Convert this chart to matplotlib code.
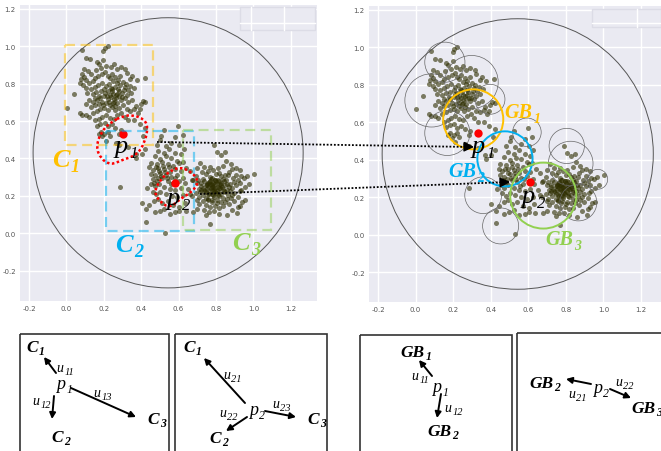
#!/usr/bin/env python3

import matplotlib
matplotlib.use('Agg')
from matplotlib import pyplot
from matplotlib.patches import Circle, Rectangle, PathPatch
from matplotlib.path import Path

#
# Data
#

# sample points, data units
POINTS_C1 = [
	(.083,.98),(.198,.975),(.205,.99),(.222,1.0),(.104,.938),(.128,.932),(.162,.915),(.173,.905),(.197,.928),
	(.092,.878),(.113,.866),(.131,.852),(.158,.871),(.187,.884),(.213,.893),(.238,.886),(.252,.902),(.268,.879),
	(.291,.891),(.314,.877),(.323,.858),(.352,.843),(.341,.826),(.418,.83),(.377,.817),(.082,.851),(.094,.836),
	(.078,.827),(.103,.818),(.072,.801),(.091,.792),(.104,.776),(.122,.803),(.141,.812),(.153,.832),(.171,.843),
	(.193,.851),(.208,.862),(.221,.841),(.233,.828),(.244,.853),(.262,.834),(.274,.817),(.288,.842),(.302,.809),
	(.319,.797),(.338,.786),(.361,.779),(.328,.768),(.312,.783),(.287,.794),(.268,.802),(.251,.813),(.228,.798),
	(.212,.787),(.188,.804),(.169,.793),(.152,.781),(.131,.772),(.112,.752),(.142,.743),(.161,.754),(.183,.762),
	(.203,.771),(.222,.758),(.243,.772),(.258,.783),(.281,.762),(.298,.748),(.322,.741),(.343,.752),(.251,.747),
	(.263,.738),(.272,.744),(.283,.731),(.241,.728),(.254,.719),(.233,.741),(.224,.718),(.202,.733),(.181,.722),
	(.163,.712),(.141,.703),(.122,.714),(.103,.692),(.132,.673),(.151,.684),(.172,.693),(.192,.702),(.213,.697),
	(.232,.688),(.253,.703),(.271,.698),(.292,.711),(.311,.722),(.331,.702),(.352,.713),(.372,.682),(.408,.709),
	(.398,.692),(.421,.701),(.391,.662),(.383,.641),(.042,.742),(.002,.672),(.073,.642),(.084,.633),(.103,.631),
	(.122,.622),(.143,.641),(.164,.652),(.182,.663),(.203,.672),(.223,.661),(.243,.673),(.262,.682),(.281,.668),
	(.302,.683),(.323,.662),(.341,.652),(.362,.663),(.152,.603),(.173,.612),(.191,.623),(.212,.631),(.231,.618),
	(.254,.609),(.272,.632),(.293,.641),(.312,.622),(.331,.603),(.163,.572),(.182,.583),(.204,.592),(.221,.571),
	(.243,.582),(.184,.543),(.202,.531),(.193,.518),(.221,.542),(.232,.521),(.291,.552),(.283,.532),(.262,.561),
	(.172,.533),(.212,.492),(.263,.482),(.284,.473),(.332,.461),(.372,.422),(.374,.401),(.402,.423),(.421,.452),
	(.412,.522),(.423,.562),(.392,.582),(.362,.603),(.245,.761),(.236,.776),(.219,.735),(.266,.722),(.247,.695),
	(.209,.752),(.275,.771),(.296,.727),(.197,.688),(.307,.765),(.229,.703),(.258,.659),(.176,.736),(.154,.724),
]
POINTS_C2 = [
	(.522,.552),(.598,.571),(.508,.522),(.502,.498),(.581,.512),(.622,.523),(.483,.472),(.532,.468),(.561,.482),
	(.603,.471),(.628,.452),(.491,.442),(.522,.431),(.551,.453),(.582,.428),(.612,.421),(.472,.412),(.503,.398),
	(.534,.411),(.562,.402),(.591,.387),(.621,.382),(.451,.378),(.482,.369),(.513,.382),(.541,.371),(.572,.362),
	(.602,.374),(.443,.352),(.462,.339),(.492,.351),(.523,.342),(.553,.328),(.581,.341),(.612,.332),(.641,.351),
	(.452,.318),(.473,.309),(.502,.322),(.531,.312),(.561,.301),(.592,.311),(.623,.298),(.463,.291),(.484,.278),
	(.512,.293),(.541,.282),(.571,.268),(.604,.279),(.632,.271),(.431,.242),(.453,.262),(.472,.251),(.493,.263),
	(.522,.248),(.552,.239),(.583,.232),(.611,.243),(.652,.238),(.462,.221),(.481,.208),(.503,.222),(.532,.209),
	(.563,.198),(.592,.192),(.624,.203),(.661,.212),(.403,.163),(.442,.151),(.471,.172),(.492,.183),(.513,.161),
	(.541,.172),(.572,.153),(.602,.142),(.633,.161),(.428,.128),(.473,.112),(.498,.118),(.523,.131),(.552,.103),
	(.581,.112),(.603,.121),(.427,.062),(.527,.002),(.285,.248),(.672,.283),(.662,.331),(.514,.358),(.493,.331),
	(.477,.352),(.528,.327),(.507,.304),(.546,.352),(.468,.271),(.558,.261),(.536,.294),(.489,.298),(.579,.297),
]
POINTS_C3 = [
	(.791,.472),(.807,.436),(.826,.418),(.847,.432),(.853,.387),(.878,.368),(.906,.351),(.927,.339),(.884,.346),
	(.838,.359),(.809,.347),(.767,.356),(.737,.353),(.716,.377),(.698,.347),(.727,.326),(.756,.334),(.786,.339),
	(.817,.324),(.846,.313),(.869,.329),(.908,.312),(.936,.304),(.694,.308),(.729,.292),(.746,.316),(.769,.301),
	(.778,.293),(.799,.317),(.827,.308),(.838,.291),(.866,.309),(.889,.293),(.917,.284),(.948,.297),(.967,.307),
	(.677,.287),(.706,.283),(.737,.279),(.757,.271),(.766,.282),(.797,.284),(.818,.278),(.827,.269),(.856,.286),
	(.876,.264),(.898,.273),(.927,.267),(1.004,.318),(.978,.262),(.956,.246),(.698,.267),(.719,.253),(.748,.259),
	(.767,.262),(.779,.258),(.806,.261),(.828,.257),(.846,.259),(.867,.247),(.887,.242),(.909,.258),(.936,.233),
	(.708,.237),(.738,.233),(.756,.248),(.776,.246),(.789,.236),(.816,.243),(.837,.238),(.857,.231),(.876,.226),
	(.897,.216),(.926,.224),(.693,.217),(.717,.223),(.749,.218),(.758,.212),(.787,.223),(.798,.216),(.826,.211),
	(.848,.218),(.866,.206),(.888,.203),(.917,.193),(.673,.198),(.707,.192),(.728,.207),(.748,.191),(.777,.208),
	(.787,.193),(.818,.199),(.836,.191),(.857,.183),(.878,.187),(.938,.167),(.699,.177),(.728,.173),(.757,.178),
	(.776,.167),(.807,.176),(.828,.166),(.847,.169),(.868,.157),(.896,.174),(.927,.146),(.957,.176),(.708,.156),
	(.746,.153),(.767,.143),(.796,.147),(.817,.136),(.837,.144),(.887,.126),(.917,.138),(.698,.128),(.737,.123),
	(.763,.114),(.788,.117),(.816,.104),(.858,.096),(.914,.107),(.746,.097),(.768,.052),(.677,.113),(.637,.117),
	(.762,.276),(.776,.263),(.784,.269),(.794,.261),(.801,.277),(.819,.263),(.771,.243),(.783,.248),(.795,.242),
	(.811,.247),(.822,.244),(.753,.237),(.778,.233),(.804,.228),(.793,.224),(.814,.221),(.769,.227),(.751,.257),
	(.733,.242),(.831,.247),(.794,.287),(.773,.291),(.809,.286),(.785,.207),(.812,.204),(.764,.208),(.742,.227),
	(.841,.228),(.752,.263),(.722,.267),(.858,.263),(.779,.179),(.758,.182),(.803,.163),(.843,.281),(.719,.231),
]

# big enclosing circle and the small grey balls of the right panel: x, y, r
BIG_CIRCLE = (.544, .43, .722)
BALLS_X = [.156, .298, .085, .396, .169, .593, .805, .826, .970, .867, .360, .453]
BALLS_Y = [.920, .814, .716, .722, .542, .546, .473, .379, .295, .171, .210, .046]
BALLS_R = [.107, .142, .142, .080, .120, .076, .094, .119, .053, .098, .098, .096]

# coloured balls GB1, GB2, GB3
GB_X = [.307, .476, .680]
GB_Y = [.615, .404, .208]
GB_R = [.160, .147, .176]

# red query points in each panel
LEFT_RED_X = [.305, .581]
LEFT_RED_Y = [.533, .267]
RIGHT_RED_X = [.334, .609]
RIGHT_RED_Y = [.540, .283]

TICKS = [-0.2, 0.0, 0.2, 0.4, 0.6, 0.8, 1.0, 1.2]

ORANGE = "#FFC000"
BLUE = "#00B0F0"
GREEN = "#92D050"
POINT_COLOR = "#2E2E00"
BG_COLOR = "#EAEAF2"

W, H = 661, 452

fig = pyplot.figure(figsize=(W / 100, H / 100), dpi=100)
fig.patch.set_facecolor("white")


def data_axes(left, right, top, bottom, xlim, ylim):
	ax = fig.add_axes([left / W, 1 - bottom / H, (right - left) / W, (bottom - top) / H])
	ax.set_facecolor(BG_COLOR)
	ax.set_xlim(xlim)
	ax.set_ylim(ylim)
	ax.set_xticks(TICKS)
	ax.set_yticks(TICKS)
	ax.set_xticklabels(["%.1f" % t for t in TICKS])
	ax.set_yticklabels(["%.1f" % t for t in TICKS])
	ax.grid(True, color="white", linewidth=1)
	ax.set_axisbelow(True)
	ax.tick_params(length=0, labelsize=5, labelcolor="#555555", pad=3)
	for s in ax.spines.values():
		s.set_visible(False)
	points = POINTS_C1 + POINTS_C2 + POINTS_C3
	ax.scatter([p[0] for p in points], [p[1] for p in points], s=13, color=POINT_COLOR,
		alpha=0.6, linewidths=0, zorder=3)
	ax.add_patch(Circle(BIG_CIRCLE[:2], BIG_CIRCLE[2], fill=False, edgecolor="#555555", linewidth=0.7, zorder=4))
	return ax


left_ax = data_axes(20, 317, 6, 302, (-0.248, 1.34), (-0.362, 1.22))
right_ax = data_axes(369, 661, 7, 303, (-0.248, 1.307), (-0.36, 1.22))

left_ax.scatter(LEFT_RED_X, LEFT_RED_Y, s=36, color="#FF0000", linewidths=0, zorder=6)

for x, y, r in zip(BALLS_X, BALLS_Y, BALLS_R):
	right_ax.add_patch(Circle((x, y), r, fill=False, edgecolor="#666666", linewidth=0.5, zorder=4))
for x, y, r, c in zip(GB_X, GB_Y, GB_R, [ORANGE, BLUE, GREEN]):
	right_ax.add_patch(Circle((x, y), r, fill=False, edgecolor=c, linewidth=1.4, zorder=5))
right_ax.scatter(RIGHT_RED_X, RIGHT_RED_Y, s=36, color="#FF0000", linewidths=0, zorder=6)

# Everything drawn by hand on the figure goes on an overlay in pixels
over = fig.add_axes([0, 0, 1, 1])
over.set_xlim(0, W)
over.set_ylim(H, 0)
over.axis("off")
over.patch.set_visible(False)

# leftovers of the legend box, top right of each plot
for x0, y0, w, h in [(240, 8, 75, 23), (592, 10, 69, 18)]:
	over.add_patch(Rectangle((x0, y0), w, h, facecolor=BG_COLOR, edgecolor="#DCDCE6", linewidth=1))
over.plot([240, 315], [23.5, 23.5], color="white", linewidth=1)
over.plot([251, 251], [8, 31], color="white", linewidth=1)
over.plot([284, 284], [8, 31], color="white", linewidth=1)
over.plot([592, 661], [23.5, 23.5], color="white", linewidth=1)
over.plot([637, 637], [10, 28], color="white", linewidth=1)

# dashed cluster boxes
for x0, y0, x1, y1, c in [(65, 46, 153, 146, ORANGE), (106, 132, 194, 232, BLUE), (183, 131, 271, 231, GREEN)]:
	over.add_patch(Rectangle((x0, y0), x1 - x0, y1 - y0, fill=False, edgecolor=c, alpha=0.5,
		linewidth=1.6, linestyle=(0, (4.5, 2.5))))


def blob(pts):
	# closed smooth outline, corners as quadratic controls
	mids = [((pts[i][0] + pts[i - 1][0]) / 2, (pts[i][1] + pts[i - 1][1]) / 2) for i in range(len(pts))]
	verts = [mids[0]]
	codes = [Path.MOVETO]
	for i in range(len(pts)):
		verts += [pts[i], mids[(i + 1) % len(pts)]]
		codes += [Path.CURVE3, Path.CURVE3]
	over.add_patch(PathPatch(Path(verts, codes), fill=False, edgecolor="#FF0000", linewidth=1.8,
		linestyle=(0, (1, 1))))


blob([(123, 117), (133, 116), (144, 120), (148, 128), (145, 143), (137, 156), (122, 161), (111, 166),
	(101, 160), (96, 148), (101, 133), (111, 123)])
blob([(180, 168), (192, 173), (199, 183), (192, 193), (180, 200), (170, 209), (160, 203), (154, 193),
	(160, 181), (170, 172)])

# dotted links between the two plots
over.plot([157, 472], [143, 148], color="black", linewidth=1.3, linestyle=(0, (1, 1)))
over.plot([200, 508], [195, 183], color="black", linewidth=1.3, linestyle=(0, (1, 1)))
over.annotate("", xy=(474, 148), xytext=(464, 147.7),
	arrowprops=dict(arrowstyle="-|>,head_length=0.6,head_width=0.3", color="black", lw=1, shrinkA=0, shrinkB=0))
over.annotate("", xy=(510, 183), xytext=(500, 183.4),
	arrowprops=dict(arrowstyle="-|>,head_length=0.6,head_width=0.3", color="black", lw=1, shrinkA=0, shrinkB=0))

# lower panels
for x0, x1, top in [(19.5, 169, 335), (175, 327, 335), (360, 512, 336), (517, 670, 334)]:
	over.add_patch(Rectangle((x0, top), x1 - x0, 130, fill=False, edgecolor="#333333", linewidth=1.2))

for p0, p1 in [((56, 374), (44, 358)), ((54, 397), (52, 420)), ((71, 389), (136, 418)),
		((245, 404), (204, 359)), ((247, 418), (226, 432)), ((265, 412), (296, 418)),
		((432, 377), (419, 361)), ((441, 395), (437, 419)),
		((591, 385), (566, 380)), ((610, 390), (631, 399))]:
	over.annotate("", xy=p1, xytext=p0,
		arrowprops=dict(arrowstyle="-|>,head_length=0.35,head_width=0.18", color="black", lw=1.4,
			shrinkA=0, shrinkB=0))


def label(x, y, base, sub, size, sub_size, color="black", bold=True):
	weight = "bold" if bold else "normal"
	t = over.text(x, y, base, family="Liberation Serif", style="italic", weight=weight,
		fontsize=size, color=color, va="baseline", ha="left")
	over.annotate(sub, xy=(1, 0), xycoords=t, xytext=(1, -size * 0.14), textcoords="offset points",
		family="Liberation Serif", style="italic", weight=weight, fontsize=sub_size, color=color,
		va="bottom", ha="left")


# upper plots
label(52, 167, "C", "1", 19, 13, ORANGE)
label(115, 252, "C", "2", 19, 13, BLUE)
label(232, 250, "C", "3", 19, 13, GREEN)
label(115, 153, "p", "1", 19, 12, bold=False)
label(167, 205, "p", "2", 19, 12, bold=False)
label(504, 118, "GB", "1", 14.5, 10, ORANGE)
label(448, 177, "GB", "2", 14.5, 10, BLUE)
label(545, 245, "GB", "3", 14.5, 10, GREEN)
label(472, 153, "p", "1", 19, 12, bold=False)
label(522, 203, "p", "2", 19, 12, bold=False)

# lower panels
label(26, 352, "C", "1", 12.5, 8.5)
label(147, 424, "C", "3", 12.5, 8.5)
label(51, 442, "C", "2", 12.5, 8.5)
label(56, 389, "p", "1", 13, 8.5, bold=False)
label(56, 372, "u", "11", 10, 7.5, bold=False)
label(93, 397, "u", "13", 10, 7.5, bold=False)
label(32, 405, "u", "12", 10, 7.5, bold=False)

label(183, 352, "C", "1", 12.5, 8.5)
label(307, 424, "C", "3", 12.5, 8.5)
label(209, 443, "C", "2", 12.5, 8.5)
label(249, 415, "p", "2", 13, 8.5, bold=False)
label(223, 379, "u", "21", 10, 7.5, bold=False)
label(219, 417, "u", "22", 10, 7.5, bold=False)
label(272, 408, "u", "23", 10, 7.5, bold=False)

label(400, 357, "GB", "1", 12.5, 8.5)
label(411, 380, "u", "11", 10, 7.5, bold=False)
label(432, 392, "p", "1", 13, 8.5, bold=False)
label(444, 412, "u", "12", 10, 7.5, bold=False)
label(427, 436, "GB", "2", 12.5, 8.5)

label(529, 388, "GB", "2", 12.5, 8.5)
label(568, 398, "u", "21", 10, 7.5, bold=False)
label(593, 393, "p", "2", 13, 8.5, bold=False)
label(615, 386, "u", "22", 10, 7.5, bold=False)
label(631, 413, "GB", "3", 12.5, 8.5)

pyplot.savefig("out.png", dpi=100)
